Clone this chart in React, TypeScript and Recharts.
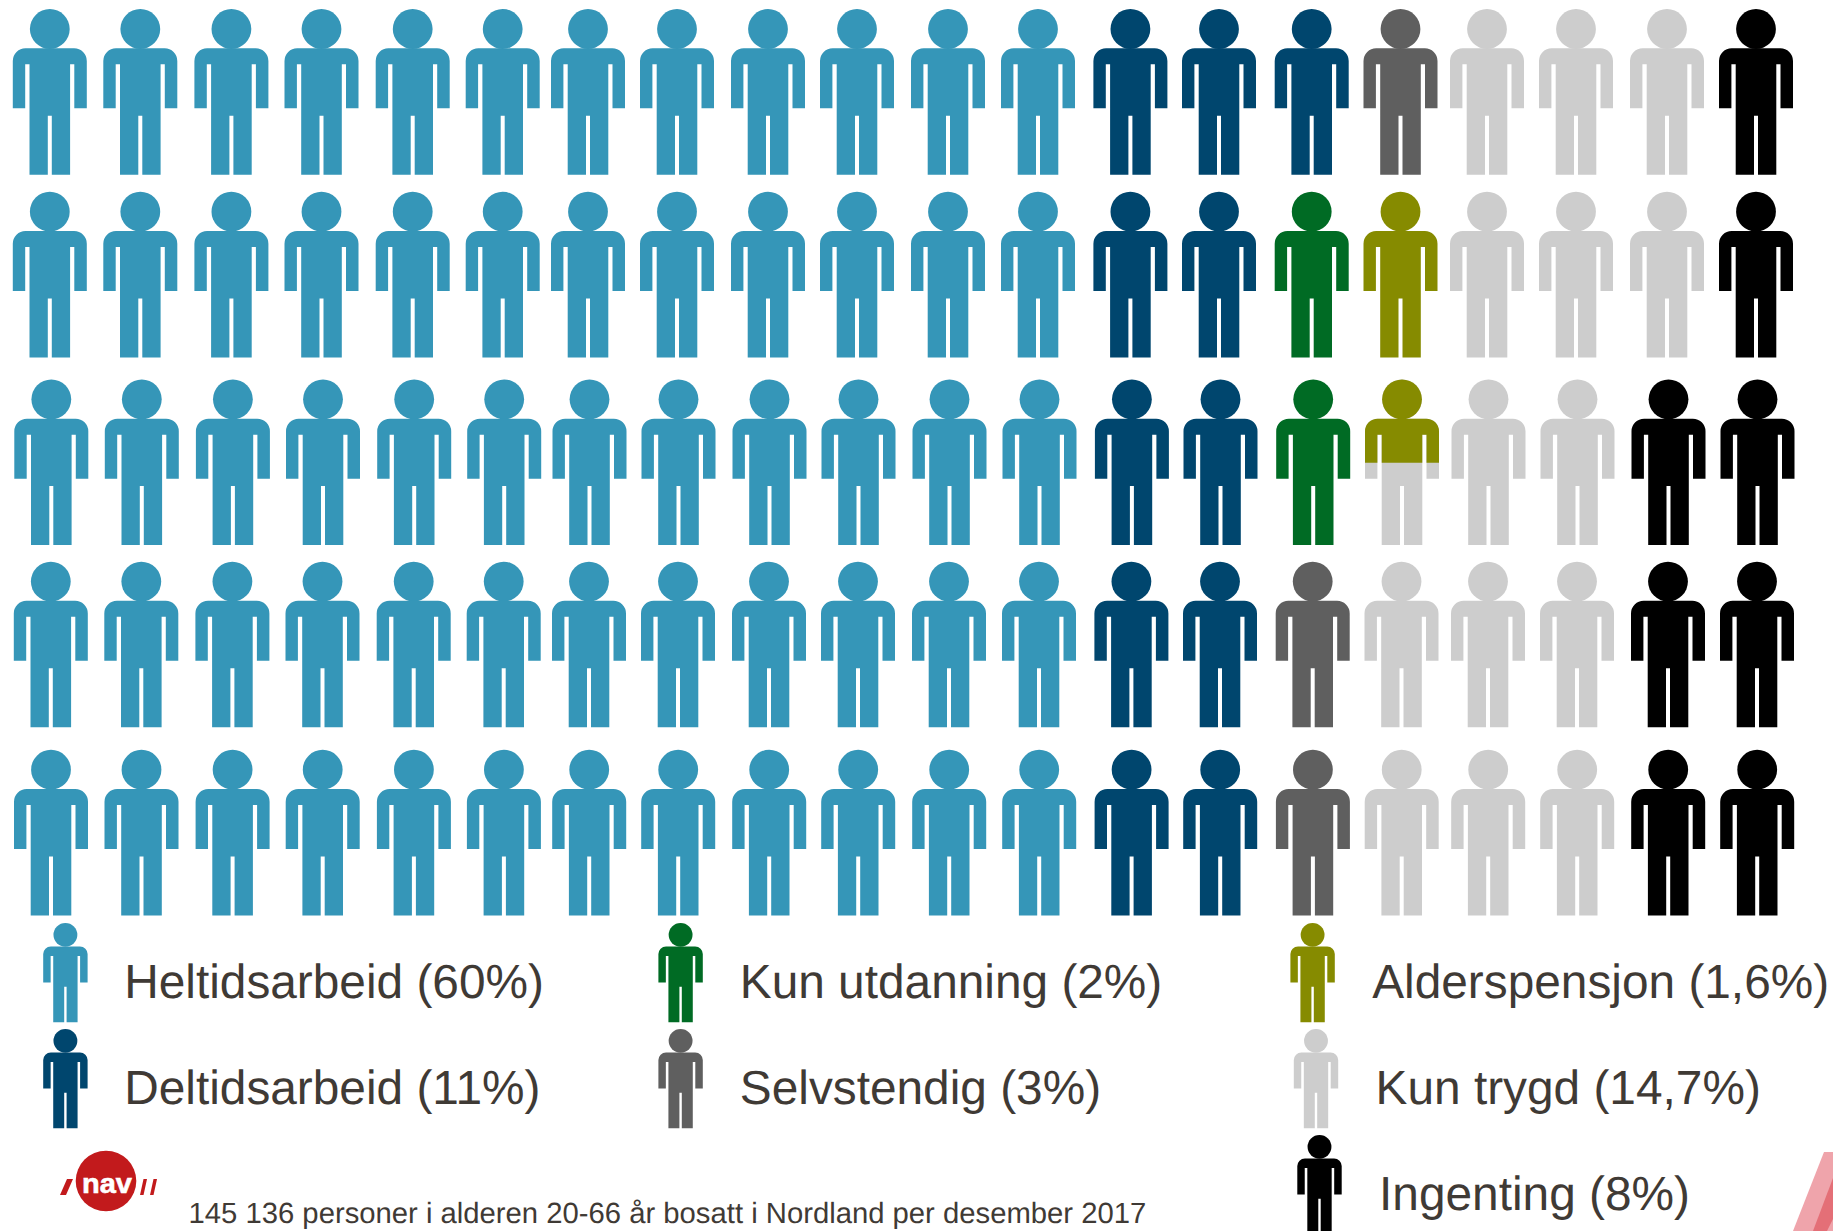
import React from "react";
import { ScatterChart, Scatter, XAxis, YAxis } from "recharts";

// ---- data ----
const categories = ["H", "D", "U", "A", "S", "T", "I"];
const categoryNames = [
  "Heltidsarbeid (60%)",
  "Deltidsarbeid (11%)",
  "Kun utdanning (2%)",
  "Alderspensjon (1,6%)",
  "Selvstendig (3%)",
  "Kun trygd (14,7%)",
  "Ingenting (8%)",
];
const row1 = "HHHHHHHHHHHHDDDSTTTI".split("");
const row2 = "HHHHHHHHHHHHDDUATTTI".split("");
const row3 = "HHHHHHHHHHHHDDUaTTII".split(""); // a = half Alderspensjon, half Kun trygd
const row4 = "HHHHHHHHHHHHDDSTTTII".split("");
const row5 = "HHHHHHHHHHHHDDSTTTII".split("");
const rows = [row1, row2, row3, row4, row5];
const legendColumn = [0, 0, 1, 2, 1, 2, 2];
const legendRow = [0, 1, 0, 0, 1, 1, 2];
const footer = "145 136 personer i alderen 20-66 år bosatt i Nordland per desember 2017";

// ---- style ----
const colors: Record<string, string> = {
  H: "#3596B8",
  D: "#00466E",
  U: "#006B24",
  A: "#868B00",
  S: "#5F5F5F",
  T: "#CDCDCD",
  I: "#000000",
};
const TEXT = "#3F3A35";
const FONT = "'Liberation Sans', Arial, sans-serif";
const W = 1833;
const H = 1231;
const colNudge = [0, 0.7, 2, 2.3, 3.7, 3.9, -0.6, -1.4, -0.2, -1, 0.2, 0.4, 3, 1.8, 4.7, 3.7, 0.4, -0.4, 0.8, 0];
const rowNudgeX = [0, 0, 1.5, 1, 1.2];
const rowNudgeY = [0, -2.5, 0, -3, 0];
const legendNudgeX = [0, 0, -8.4, 0, -8.4, 3.4, 6.9];
const legendTextDx = [58.8, 58.8, 59.2, 59.6, 59.2, 59.6, 59.6];

const BODY =
  "M-24.3 39H24.3A12.7 12.7 0 0 1 37 51.7V99H24.5V55H20.3V165.4H2V106.4H-2V165.4H-20.3V55H-24.6V99H-37V51.7A12.7 12.7 0 0 1 -24.3 39Z";

function Person({ x, y, fill, scale = 1 }: { x: number; y: number; fill: string; scale?: number }) {
  return (
    <g transform={`translate(${x} ${y}) scale(${scale})`} fill={fill}>
      <circle cx={0} cy={19.7} r={19.9} />
      <path d={BODY} />
    </g>
  );
}

type Pt = { col: number; row: number; cat: string };
const pointsFor = (cat: string): Pt[] =>
  rows.flatMap((r, row) =>
    r.flatMap((c, col) => (c === cat ? [{ col, row, cat: c }] : []))
  );

const gridShape = (p: any) => {
  const { col, row, cat } = p.payload as Pt;
  const x = p.cx + colNudge[col] + rowNudgeX[row];
  const y = p.cy + rowNudgeY[row];
  if (cat === "a") {
    return (
      <g>
        <Person x={x} y={y} fill={colors.T} />
        <clipPath id="half-clip">
          <rect x={x - 45} y={y - 5} width={90} height={88} />
        </clipPath>
        <g clipPath="url(#half-clip)">
          <Person x={x} y={y} fill={colors.A} />
        </g>
      </g>
    );
  }
  return <Person x={x} y={y} fill={colors[cat]} />;
};

const legendData = categories.map((cat, i) => ({
  cat,
  name: categoryNames[i],
  col: legendColumn[i],
  row: legendRow[i],
  i,
}));

const legendShape = (p: any) => {
  const d = p.payload;
  const x = p.cx + legendNudgeX[d.i];
  return (
    <g>
      <Person x={x} y={p.cy} fill={colors[d.cat]} scale={0.6} />
      <text
        x={x + legendTextDx[d.i]}
        y={p.cy + 75}
        fontFamily={FONT}
        fontSize={47.8}
        fill={TEXT}
        style={{ textRendering: "geometricPrecision" }}
      >
        {d.name}
      </text>
    </g>
  );
};

function Decor() {
  return (
    <svg width={W} height={H} style={{ position: "absolute", left: 0, top: 0 }}>
      <text
        x={188.5}
        y={1223}
        fontFamily={FONT}
        fontSize={29.25}
        fill={TEXT}
        style={{ textRendering: "geometricPrecision" }}
      >
        {footer}
      </text>
      <g fill="#C21A1C">
        <circle cx={106} cy={1181} r={30.3} />
        <polygon points="67,1179 73,1179 66,1195 60,1195" />
        <polygon points="143.5,1179 147,1179 143.5,1195 140,1195" />
        <polygon points="153.5,1179 157,1179 153.5,1195 150,1195" />
      </g>
      <text
        x={82}
        y={1193}
        fontFamily={FONT}
        fontSize={27}
        fontWeight="bold"
        fill="#fff"
        stroke="#fff"
        strokeWidth={0.6}
        textLength={50}
        lengthAdjust="spacingAndGlyphs"
      >
        nav
      </text>
      <polygon points="1824,1152 1833,1152 1833,1231 1793,1231" fill="#EFA4AB" />
      <polygon points="1833,1178 1833,1219 1827,1231 1813,1231" fill="#E46F77" />
    </svg>
  );
}

export default function App() {
  return (
    <div style={{ position: "absolute", left: 0, top: 0, width: W, height: H, overflow: "hidden", background: "#fff" }}>
      <div style={{ position: "absolute", left: 0, top: 0 }}>
        <ScatterChart width={W} height={H} margin={{ left: 49.8, right: W - 1756, top: 9.3, bottom: H - 750 }}>
          <XAxis type="number" dataKey="col" domain={[0, 19]} hide />
          <YAxis type="number" dataKey="row" domain={[0, 4]} reversed hide />
          {[...categories, "a"].map((c) => (
            <Scatter key={c} data={pointsFor(c)} shape={gridShape} isAnimationActive={false} />
          ))}
        </ScatterChart>
      </div>
      <div style={{ position: "absolute", left: 0, top: 0 }}>
        <ScatterChart width={W} height={H} margin={{ left: 65.4, right: W - 1312.6, top: 923, bottom: H - 1135 }}>
          <XAxis type="number" dataKey="col" domain={[0, 2]} hide />
          <YAxis type="number" dataKey="row" domain={[0, 2]} reversed hide />
          <Scatter data={legendData} shape={legendShape} isAnimationActive={false} />
        </ScatterChart>
      </div>
      <Decor />
    </div>
  );
}
